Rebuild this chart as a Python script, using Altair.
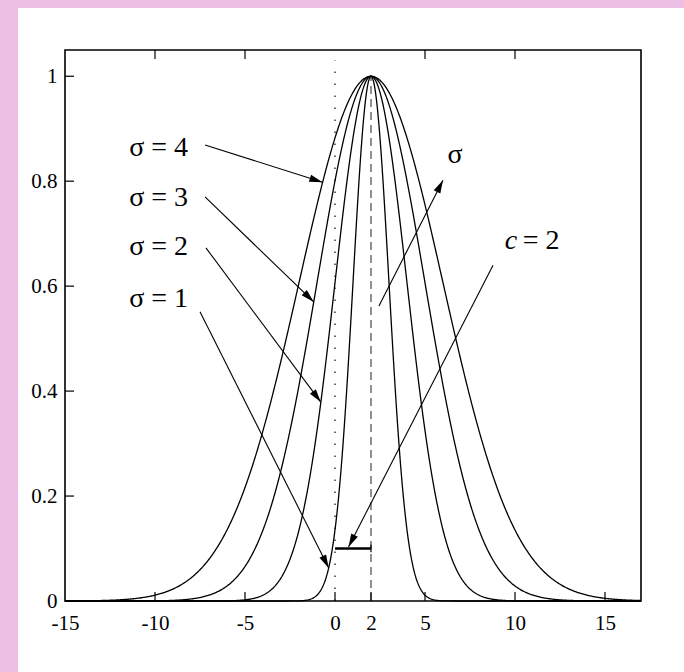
import math
import numpy as np
import pandas as pd
import altair as alt

# Gaussian membership functions  mu(x) = exp(-(x - c)^2 / (2 sigma^2))
sigmas = [1, 2, 3, 4]
center = 2

x_domain = [-15, 17]
y_domain = [0, 1.05]
x_labels = [-15, -10, -5, 0, 2, 5, 10, 15]
y_labels = [0, 0.2, 0.4, 0.6, 0.8, 1]
bottom_ticks = [-10, -5, 0, 2, 5, 10, 15]
top_ticks = [-10, -5, 5, 10]
left_ticks = [0.2, 0.4, 0.6, 0.8, 1]

# sigma labels on the left
label_text = ["σ = 4", "σ = 3", "σ = 2", "σ = 1"]
label_x = [-9.8, -9.8, -9.8, -9.8]
label_y = [0.863, 0.768, 0.675, 0.575]

# arrows: tail -> tip (sigma=4, 3, 2, 1, sigma direction, c marker)
tail_x = [-7.22, -7.22, -7.17, -7.5, 2.44, 8.78]
tail_y = [0.869, 0.770, 0.673, 0.551, 0.562, 0.640]
tip_x = [-0.69, -1.18, -0.79, -0.35, 6.0, 0.75]
tip_y = [0.798, 0.570, 0.379, 0.063, 0.802, 0.103]

W, H = 576, 551
PAD = {"left": 65, "top": 50, "right": 43, "bottom": 71}
FONT = "Liberation Serif"
PINK = "#EBC0E4"
LABEL_SIZE = 21

xs = np.arange(x_domain[0], x_domain[1] + 1e-9, 0.05)
curves = pd.DataFrame(
    [
        {"x": float(x), "y": float(math.exp(-((x - center) ** 2) / (2 * s * s))), "sigma": s}
        for s in sigmas
        for x in xs
    ]
)

# arrowhead orientation in screen space
kx = W / (x_domain[1] - x_domain[0])
ky = H / (y_domain[1] - y_domain[0])
arrows = []
for a, b, c, d in zip(tail_x, tail_y, tip_x, tip_y):
    dx = (c - a) * kx
    dy = -(d - b) * ky
    ang = math.degrees(math.atan2(dx, -dy)) % 360
    arrows.append({"x": a, "y": b, "x2": c, "y2": d, "angle": ang})
arrows = pd.DataFrame(arrows)

labels = pd.DataFrame({"x": label_x, "y": label_y, "text": label_text})

xscale = alt.Scale(domain=x_domain, nice=False, zero=False)
yscale = alt.Scale(domain=y_domain, nice=False, zero=False)

X_AXIS = alt.Axis(
    values=x_labels,
    format="~d",
    labelExpr="replace(datum.label, '\u2212', '-')",
    title=None,
    labelPadding=11,
    labelFontSize=LABEL_SIZE,
)
Y_AXIS = alt.Axis(
    values=y_labels,
    format=".1~f",
    title=None,
    labelPadding=8,
    labelFontSize=LABEL_SIZE,
)


def X(field):
    return alt.X(field, type="quantitative", scale=xscale, axis=X_AXIS)


def Y(field):
    return alt.Y(field, type="quantitative", scale=yscale, axis=Y_AXIS)


one = alt.Data(values=[{}])

# pink page edges (left strip and top strip)
edge_left = alt.Chart(one).mark_rect(color=PINK).encode(
    x=alt.value(-PAD["left"]),
    x2=alt.value(18 - PAD["left"]),
    y=alt.value(-PAD["top"]),
    y2=alt.value(H + PAD["bottom"]),
)
edge_top = alt.Chart(one).mark_rect(color=PINK).encode(
    x=alt.value(-PAD["left"]),
    x2=alt.value(W + PAD["right"]),
    y=alt.value(-PAD["top"]),
    y2=alt.value(8 - PAD["top"]),
)

lines = alt.Chart(curves).mark_line(color="black", strokeWidth=1.3).encode(
    x=X("x"), y=Y("y"), detail="sigma:N"
)

guides = pd.DataFrame(
    [
        {"x": 0, "y": 0, "y2": 1.03, "kind": "dot"},
        {"x": center, "y": 0, "y2": 1.0, "kind": "dash"},
    ]
)
dotted = alt.Chart(guides[guides.kind == "dot"]).mark_rule(
    color="#444", strokeWidth=1.6, strokeDash=[1.5, 10.5]
).encode(x=X("x"), y=Y("y"), y2="y2:Q")
dashed = alt.Chart(guides[guides.kind == "dash"]).mark_rule(
    color="#555", strokeWidth=1.3, strokeDash=[8, 5]
).encode(x=X("x"), y=Y("y"), y2="y2:Q")

seg = pd.DataFrame([{"x": 0, "x2": center, "y": 0.1}])
segment = alt.Chart(seg).mark_rule(color="black", strokeWidth=2.4).encode(
    x=X("x"), x2="x2:Q", y=Y("y")
)
seg_end = pd.DataFrame([{"x": center, "y": 0.093, "y2": 0.107}])
segment_end = alt.Chart(seg_end).mark_rule(color="black", strokeWidth=1.2).encode(
    x=X("x"), y=Y("y"), y2="y2:Q"
)

shafts = alt.Chart(arrows).mark_rule(color="black", strokeWidth=1.1).encode(
    x=X("x"), y=Y("y"), x2="x2:Q", y2="y2:Q"
)
heads = alt.Chart(arrows).mark_point(
    shape="M0,0 L-0.28,1 L0.28,1 Z", filled=True, color="black", size=700, opacity=1
).encode(
    x=X("x2"),
    y=Y("y2"),
    angle=alt.Angle("angle:Q", scale=None),
)

sigma_labels = alt.Chart(labels).mark_text(
    font=FONT, fontSize=28, color="black", align="center", baseline="middle"
).encode(x=X("x"), y=Y("y"), text="text:N")

notes = pd.DataFrame(
    [
        {"x": 6.67, "y": 0.85, "text": "σ", "style": "normal"},
        {"x": 9.78, "y": 0.686, "text": "c", "style": "italic"},
        {"x": 11.45, "y": 0.686, "text": "= 2", "style": "normal"},
    ]
)
note_plain = alt.Chart(notes[notes["style"] == "normal"]).mark_text(
    font=FONT, fontSize=28, color="black", align="center", baseline="middle"
).encode(x=X("x"), y=Y("y"), text="text:N")
note_italic = alt.Chart(notes[notes["style"] == "italic"]).mark_text(
    font=FONT, fontSize=28, fontStyle="italic", color="black", align="center", baseline="middle"
).encode(x=X("x"), y=Y("y"), text="text:N")

# inward ticks
bt = alt.Chart(pd.DataFrame({"t": bottom_ticks})).mark_rule(color="black", strokeWidth=1.2).encode(
    x=X("t"), y=alt.value(H), y2=alt.value(H - 9)
)
tt = alt.Chart(pd.DataFrame({"t": top_ticks})).mark_rule(color="black", strokeWidth=1.2).encode(
    x=X("t"), y=alt.value(0), y2=alt.value(9)
)
lt = alt.Chart(pd.DataFrame({"t": left_ticks})).mark_rule(color="black", strokeWidth=1.2).encode(
    y=Y("t"), x=alt.value(0), x2=alt.value(9)
)

frame = alt.Chart(one).mark_rect(fill=None, stroke="black", strokeWidth=1.6).encode(
    x=alt.value(0), x2=alt.value(W), y=alt.value(0), y2=alt.value(H)
)

chart = (
    alt.layer(
        edge_left, edge_top, dotted, dashed, lines, segment, segment_end, shafts, heads,
        sigma_labels, note_plain, note_italic, bt, tt, lt, frame,
    )
    .resolve_scale(x="shared", y="shared")
    .properties(
        width=W,
        height=H,
        padding=PAD,
        autosize=alt.AutoSizeParams(type="none"),
        background="white",
    )
    .configure_view(stroke=None)
    .configure_axis(
        grid=False,
        domain=False,
        ticks=False,
        labelFont=FONT,
        labelFontSize=LABEL_SIZE,
        labelColor="black",
        labelFlush=False,
        labelOverlap=False,
    )
)

chart.save("out.html", embed_options={"renderer": "svg", "actions": False})
